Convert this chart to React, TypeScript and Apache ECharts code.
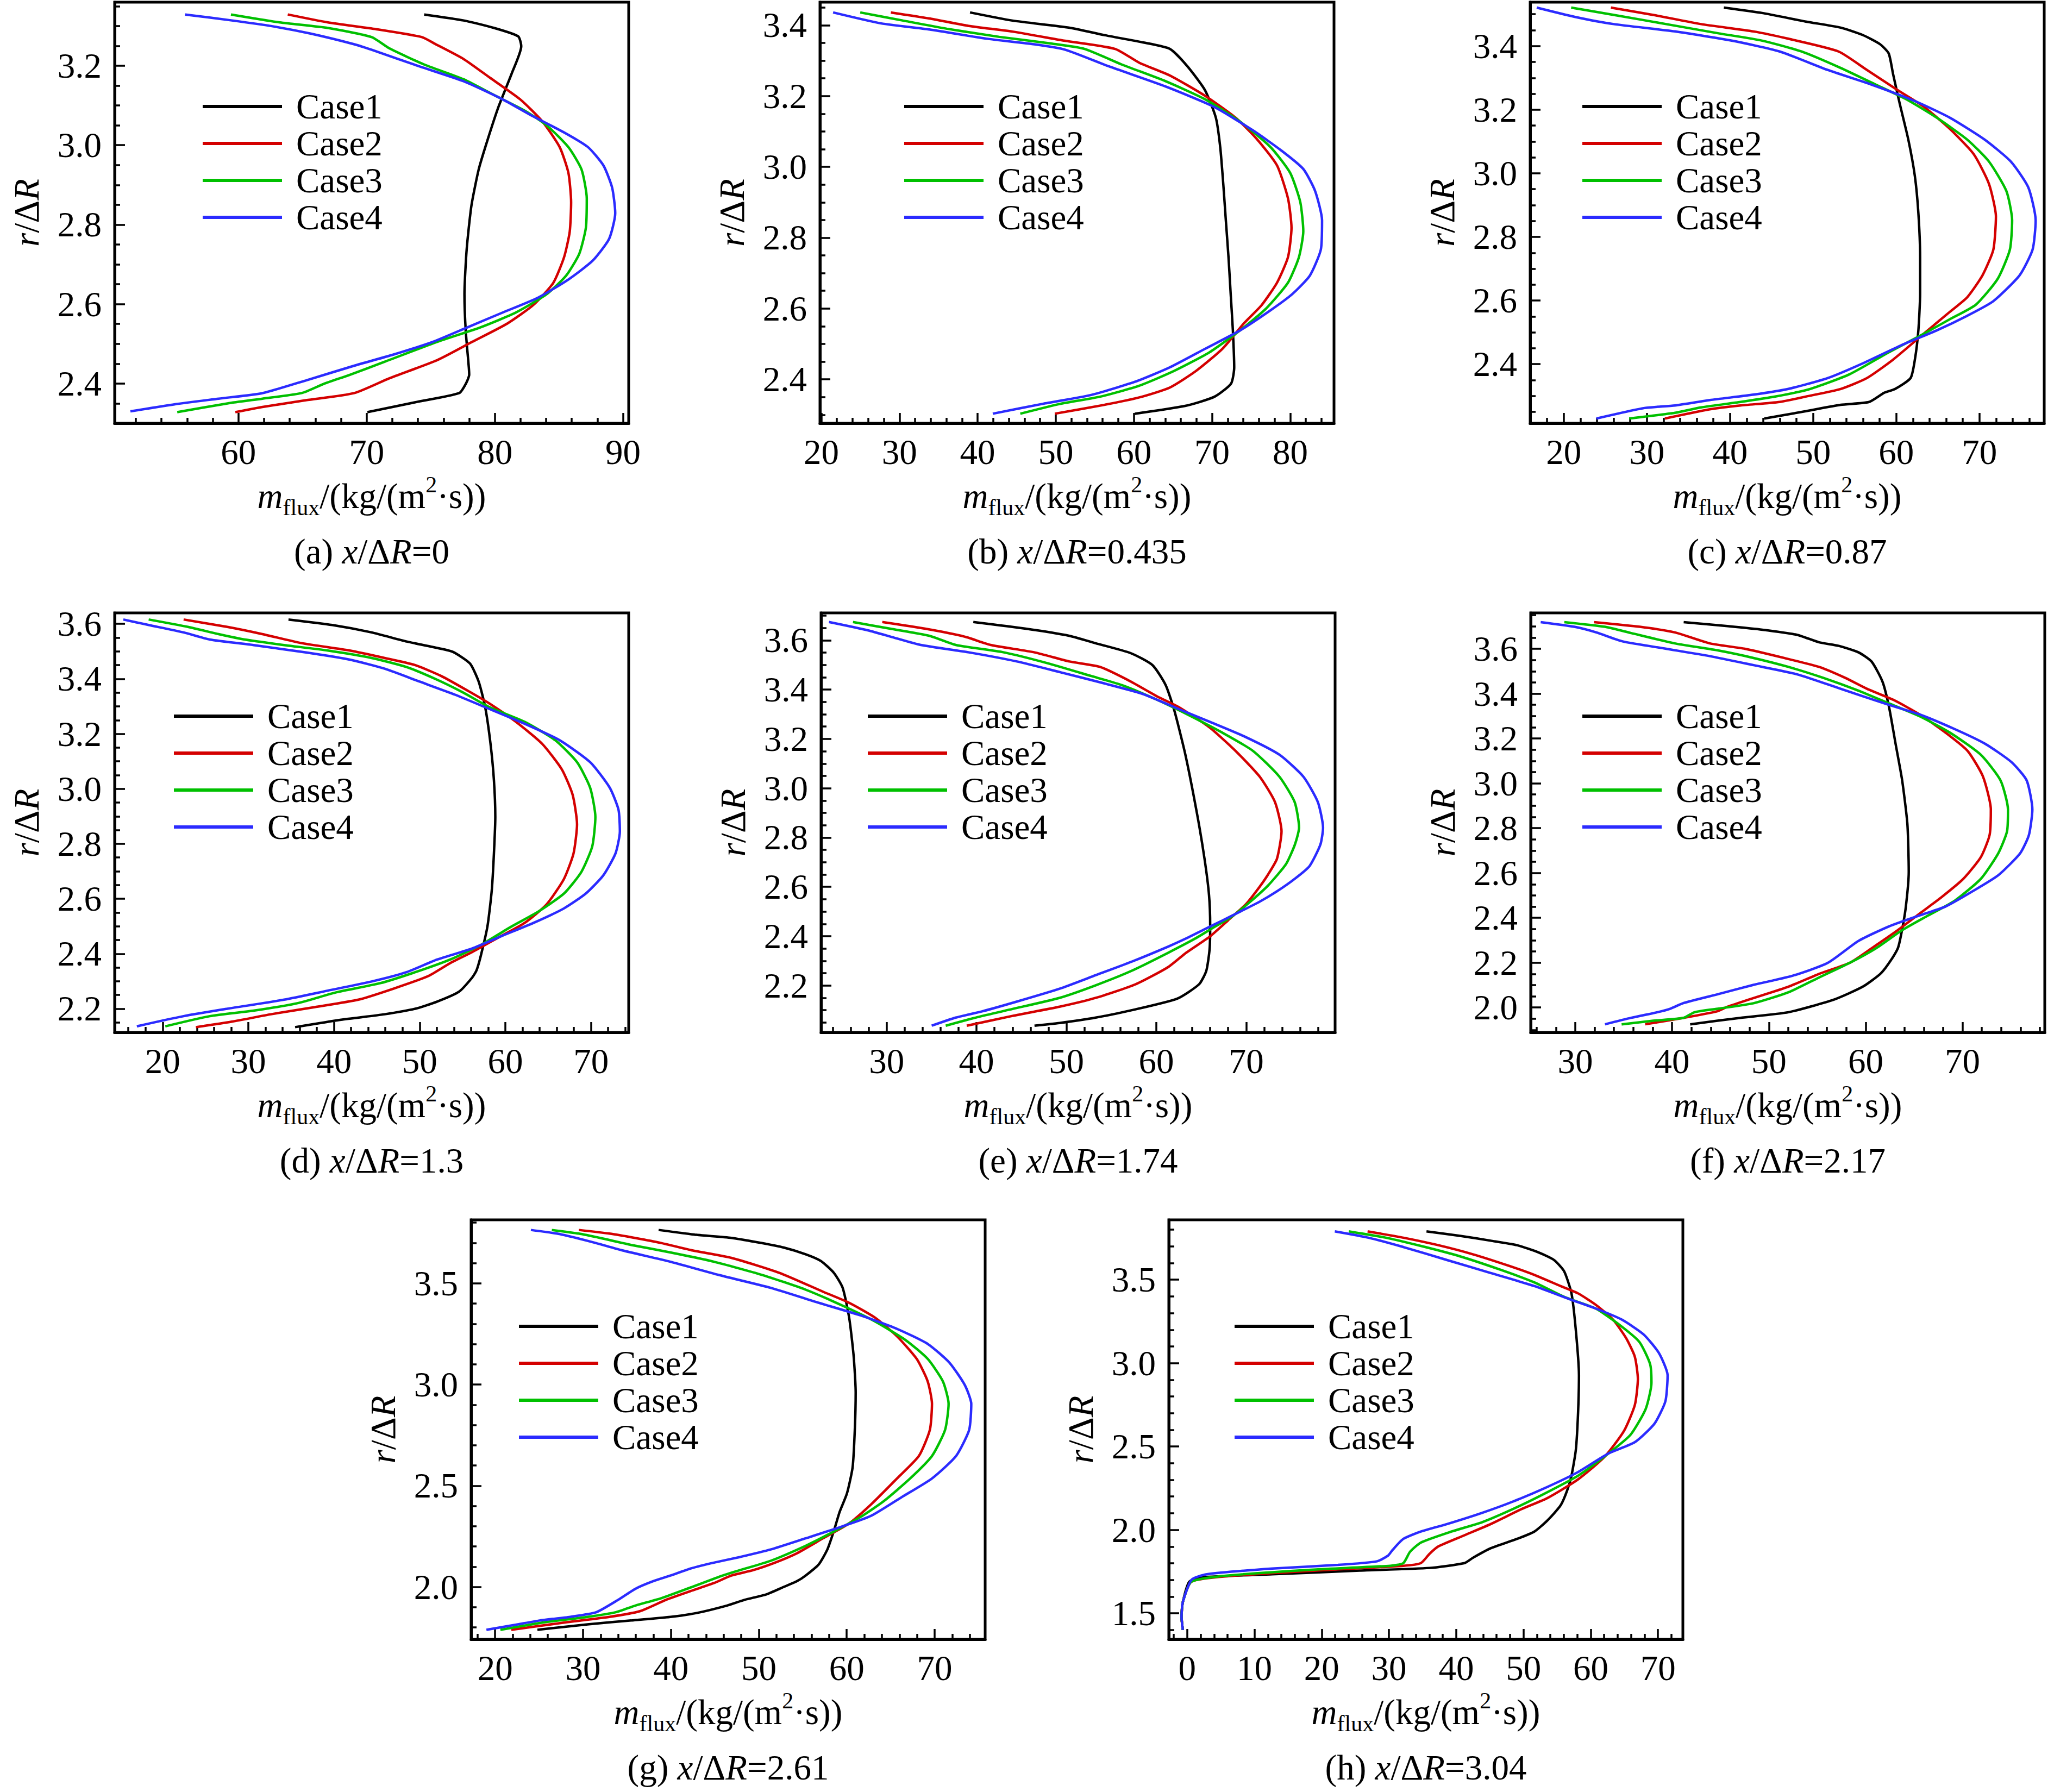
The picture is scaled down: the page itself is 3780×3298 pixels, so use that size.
import React, { useEffect, useRef } from 'react';
import * as echarts from 'echarts';

// ---------------- data ----------------
const caseNames = ['Case1', 'Case2', 'Case3', 'Case4'];
const panelLetters = ['a', 'b', 'c', 'd', 'e', 'f', 'g', 'h'];
const panelPositions = ['0', '0.435', '0.87', '1.3', '1.74', '2.17', '2.61', '3.04'];
const xMins = [50.35, 19.83, 15.96, 14.4, 22.7, 25.4, 17.27, -2.73];
const xMaxs = [90.44, 85.6, 77.8, 74.4, 79.9, 78.5, 75.75, 73.7];
const yMins = [2.3, 2.276, 2.214, 2.114, 2.01, 1.889, 1.741, 1.344];
const yMaxs = [3.36, 3.465, 3.538, 3.64, 3.711, 3.76, 3.814, 3.859];
const xMajorStep = [10, 10, 10, 10, 10, 10, 10, 10];
const xMinorSplit = [5, 5, 5, 5, 5, 5, 5, 5];
const yMajorStep = [0.2, 0.2, 0.2, 0.2, 0.2, 0.2, 0.5, 0.5];
const yMinorSplit = [4, 4, 4, 4, 4, 4, 5, 5];

// (a) x/ΔR = 0
const aCase1 = [[74.49,3.329],[77.56,3.314],[79.95,3.295],[81.82,3.274],[82.06,3.249],[81.31,3.18],[80.29,3.097],[79.43,3.013],[78.75,2.94],[78.17,2.847],[77.8,2.736],[77.63,2.625],[77.73,2.533],[77.97,2.441],[78.0,2.422],[77.73,2.399],[77.22,2.376],[73.81,2.353],[70.06,2.328]];
const aCase2 = [[63.85,3.329],[66.99,3.309],[70.74,3.292],[74.32,3.272],[75.34,3.255],[77.56,3.217],[79.61,3.17],[81.99,3.115],[83.7,3.06],[85.06,2.995],[85.74,2.93],[85.95,2.856],[85.84,2.782],[85.4,2.718],[84.55,2.653],[83.01,2.598],[80.97,2.551],[78.24,2.505],[75.51,2.459],[71.76,2.413],[69.04,2.376],[65.28,2.358],[61.88,2.341],[59.76,2.328]];
const aCase3 = [[59.42,3.329],[63.24,3.309],[66.99,3.295],[70.4,3.272],[71.76,3.244],[74.49,3.203],[77.56,3.166],[79.95,3.126],[82.33,3.087],[84.04,3.05],[85.74,2.995],[86.76,2.939],[87.17,2.866],[87.1,2.792],[86.59,2.727],[85.57,2.672],[84.04,2.625],[81.65,2.579],[78.92,2.542],[75.51,2.505],[71.42,2.455],[68.69,2.422],[66.65,2.399],[64.94,2.376],[61.88,2.362],[59.15,2.35],[55.23,2.328]];
const aCase4 = [[55.84,3.329],[59.49,3.314],[62.55,3.3],[65.62,3.281],[69.04,3.254],[70.4,3.24],[74.15,3.198],[77.56,3.161],[80.63,3.115],[82.68,3.078],[85.4,3.032],[87.27,2.995],[88.47,2.949],[89.15,2.893],[89.39,2.829],[88.91,2.764],[87.62,2.709],[85.74,2.662],[83.36,2.616],[80.63,2.579],[77.9,2.542],[75.17,2.505],[72.1,2.473],[69.04,2.445],[65.28,2.408],[61.88,2.376],[58.47,2.362],[55.06,2.348],[51.58,2.33]];

// (b) x/ΔR = 0.435
const bCase1 = [[39.03,3.436],[44.45,3.413],[51.73,3.393],[56.21,3.372],[61.24,3.351],[64.6,3.333],[66.84,3.284],[69.08,3.217],[70.48,3.139],[71.04,3.056],[71.43,2.952],[71.76,2.849],[72.1,2.745],[72.38,2.641],[72.66,2.538],[72.83,2.434],[72.43,2.388],[70.31,2.351],[66.56,2.325],[60.12,2.303]];
const bCase2 = [[28.9,3.436],[33.82,3.419],[38.86,3.398],[44.45,3.382],[51.17,3.356],[57.6,3.333],[60.68,3.294],[64.6,3.258],[69.08,3.201],[73.0,3.139],[75.79,3.077],[78.31,3.004],[79.71,2.911],[80.16,2.828],[79.71,2.745],[78.31,2.673],[76.35,2.61],[74.11,2.559],[71.31,2.486],[67.96,2.424],[64.6,2.377],[60.68,2.349],[56.21,2.328],[49.88,2.303]];
const bCase3 = [[24.98,3.436],[30.46,3.413],[36.06,3.39],[42.78,3.367],[49.49,3.348],[53.69,3.333],[58.44,3.289],[64.04,3.242],[69.08,3.191],[73.56,3.128],[77.47,3.056],[79.99,2.983],[81.28,2.901],[81.67,2.818],[81.11,2.745],[79.71,2.673],[76.91,2.6],[73.56,2.538],[69.64,2.476],[65.16,2.424],[60.68,2.382],[55.65,2.351],[50.61,2.331],[45.46,2.303]];
const bCase4 = [[21.51,3.436],[27.67,3.405],[33.82,3.388],[41.1,3.362],[47.25,3.346],[51.17,3.331],[56.77,3.284],[64.04,3.227],[70.2,3.17],[75.23,3.103],[78.87,3.046],[81.67,2.994],[83.18,2.932],[84.07,2.849],[83.91,2.766],[82.51,2.693],[80.27,2.641],[77.47,2.595],[73.56,2.538],[69.08,2.486],[64.6,2.434],[60.12,2.393],[54.53,2.356],[48.37,2.331],[41.94,2.303]];

// (c) x/ΔR = 0.87
const cCase1 = [[39.26,3.521],[43.87,3.504],[49.12,3.477],[53.32,3.458],[55.94,3.435],[58.04,3.406],[59.09,3.377],[59.61,3.313],[60.4,3.221],[61.45,3.106],[62.24,2.991],[62.66,2.875],[62.87,2.737],[62.87,2.621],[62.66,2.506],[62.24,2.414],[61.72,2.356],[59.87,2.322],[58.56,2.31],[56.73,2.281],[53.32,2.272],[49.12,2.252],[44.13,2.229]];
const cCase2 = [[25.67,3.521],[30.76,3.498],[36.53,3.469],[42.82,3.446],[47.02,3.423],[53.05,3.383],[56.46,3.325],[60.14,3.262],[63.28,3.21],[66.43,3.14],[69.32,3.06],[71.15,2.967],[71.99,2.864],[71.68,2.76],[70.37,2.679],[68.53,2.61],[66.43,2.564],[63.28,2.495],[59.61,2.414],[56.46,2.356],[53.32,2.322],[49.12,2.298],[45.97,2.281],[41.25,2.27],[37.58,2.258],[32.17,2.229]];
const cCase3 = [[20.89,3.521],[26.03,3.498],[32.33,3.469],[38.63,3.44],[43.87,3.417],[48.59,3.383],[53.32,3.331],[57.51,3.279],[61.19,3.233],[64.86,3.175],[68.53,3.106],[71.15,3.037],[73.25,2.944],[73.94,2.852],[73.67,2.76],[72.2,2.668],[69.58,2.587],[66.43,2.541],[63.28,2.495],[59.09,2.437],[54.37,2.368],[49.64,2.322],[45.45,2.298],[41.25,2.281],[36.53,2.264],[33.38,2.247],[27.87,2.229]];
const cCase4 = [[16.75,3.521],[21.31,3.492],[26.03,3.469],[33.38,3.446],[40.2,3.417],[45.97,3.383],[51.74,3.325],[56.99,3.279],[62.24,3.227],[66.43,3.175],[70.63,3.106],[73.78,3.037],[75.88,2.956],[76.77,2.852],[76.4,2.76],[74.83,2.679],[71.68,2.598],[68.53,2.552],[64.86,2.506],[60.66,2.46],[55.94,2.402],[51.74,2.356],[47.02,2.322],[42.82,2.304],[37.58,2.287],[33.38,2.27],[29.71,2.262],[23.93,2.229]];

// (d) x/ΔR = 1.3
const dCase1 = [[34.69,3.616],[39.8,3.596],[44.39,3.569],[48.47,3.536],[51.53,3.516],[53.83,3.499],[55.87,3.456],[56.89,3.39],[57.65,3.297],[58.27,3.164],[58.67,3.031],[58.83,2.898],[58.67,2.765],[58.42,2.632],[57.91,2.499],[57.14,2.393],[56.63,2.339],[56.12,2.313],[54.59,2.262],[52.04,2.226],[49.49,2.2],[45.92,2.18],[40.82,2.16],[35.46,2.133]];
const dCase2 = [[22.45,3.616],[27.55,3.589],[31.63,3.563],[36.22,3.53],[41.84,3.503],[45.92,3.476],[49.49,3.45],[52.55,3.41],[55.61,3.357],[58.16,3.31],[61.22,3.244],[64.29,3.164],[66.59,3.071],[67.86,2.978],[68.37,2.871],[67.96,2.765],[66.84,2.672],[64.8,2.579],[62.24,2.512],[59.18,2.459],[56.12,2.406],[53.57,2.366],[51.02,2.319],[46.94,2.273],[42.86,2.233],[37.76,2.206],[32.65,2.18],[28.06,2.153],[23.88,2.133]];
const dCase3 = [[18.37,3.616],[22.96,3.589],[26.53,3.563],[29.59,3.543],[34.18,3.523],[39.29,3.503],[44.39,3.476],[48.47,3.443],[52.04,3.397],[55.1,3.35],[58.16,3.297],[62.24,3.244],[65.82,3.177],[68.37,3.097],[69.9,3.004],[70.51,2.898],[70.15,2.791],[68.88,2.698],[66.84,2.619],[63.78,2.552],[60.71,2.499],[57.14,2.432],[53.57,2.379],[49.49,2.333],[45.41,2.293],[40.31,2.26],[35.71,2.22],[30.61,2.193],[25.51,2.173],[20.31,2.136]];
const dCase4 = [[15.41,3.616],[18.37,3.596],[22.45,3.569],[25.51,3.543],[30.61,3.523],[36.73,3.496],[41.84,3.47],[45.92,3.437],[50.0,3.39],[54.08,3.343],[57.65,3.297],[62.24,3.237],[66.33,3.177],[69.9,3.097],[72.19,3.004],[73.21,2.924],[73.37,2.845],[72.86,2.765],[71.43,2.685],[69.39,2.619],[66.84,2.565],[63.27,2.512],[59.69,2.466],[56.12,2.419],[52.04,2.379],[48.47,2.333],[44.39,2.299],[39.29,2.266],[34.18,2.233],[27.55,2.2],[22.45,2.173],[16.99,2.136]];

// (e) x/ΔR = 1.74
const eCase1 = [[39.64,3.674],[45.47,3.647],[50.34,3.618],[53.26,3.588],[57.15,3.548],[59.59,3.499],[61.05,3.418],[62.02,3.314],[63.24,3.136],[64.54,2.896],[65.37,2.714],[65.87,2.567],[66.0,2.442],[65.93,2.346],[65.57,2.26],[64.76,2.205],[62.34,2.147],[57.28,2.1],[53.27,2.07],[49.24,2.048],[46.45,2.037]];
const eCase2 = [[29.51,3.674],[34.28,3.647],[38.66,3.615],[41.58,3.581],[46.45,3.551],[50.34,3.514],[53.75,3.492],[57.15,3.433],[60.07,3.373],[62.51,3.329],[65.91,3.247],[68.83,3.151],[71.51,3.047],[73.21,2.944],[73.94,2.825],[73.43,2.714],[72.4,2.648],[71.41,2.596],[69.98,2.53],[67.98,2.464],[65.97,2.399],[63.33,2.333],[61.33,2.275],[57.7,2.205],[53.27,2.15],[49.24,2.114],[44.01,2.077],[38.91,2.037]];
const eCase3 = [[26.25,3.674],[30.39,3.647],[34.77,3.618],[37.69,3.581],[43.04,3.551],[47.91,3.507],[52.77,3.455],[56.18,3.418],[60.07,3.359],[63.48,3.299],[67.37,3.225],[70.78,3.151],[73.7,3.047],[75.4,2.944],[75.89,2.84],[75.42,2.771],[74.43,2.692],[72.4,2.604],[70.4,2.538],[68.39,2.479],[66.35,2.435],[64.36,2.391],[61.33,2.333],[57.28,2.26],[53.27,2.201],[49.24,2.15],[44.01,2.105],[40.12,2.072],[36.57,2.037]];
const eCase4 = [[23.58,3.674],[27.96,3.64],[30.88,3.61],[33.8,3.581],[39.15,3.551],[44.5,3.514],[49.37,3.47],[54.23,3.425],[58.61,3.381],[62.51,3.321],[65.91,3.27],[69.81,3.21],[73.7,3.136],[76.37,3.047],[77.98,2.944],[78.56,2.84],[78.26,2.771],[77.05,2.684],[75.42,2.633],[73.43,2.582],[71.41,2.538],[69.4,2.501],[67.38,2.464],[65.37,2.428],[63.33,2.391],[61.33,2.358],[57.28,2.297],[53.27,2.242],[49.24,2.187],[44.5,2.135],[40.61,2.095],[37.69,2.07],[35.01,2.037]];

// (f) x/ΔR = 2.17
const fCase1 = [[41.2,3.719],[45.71,3.701],[49.32,3.685],[52.93,3.662],[55.19,3.629],[57.22,3.613],[59.26,3.584],[60.61,3.543],[61.74,3.453],[62.42,3.339],[63.09,3.176],[63.77,3.013],[64.31,2.818],[64.45,2.606],[64.13,2.443],[63.68,2.329],[63.32,2.264],[62.42,2.199],[61.51,2.15],[59.71,2.093],[56.77,2.036],[52.03,1.979],[47.07,1.954],[41.87,1.925]];
const fCase2 = [[31.94,3.719],[36.68,3.698],[40.29,3.673],[43.91,3.624],[47.52,3.6],[51.58,3.559],[55.19,3.519],[57.9,3.47],[60.16,3.421],[62.87,3.372],[65.58,3.307],[68.28,3.225],[70.54,3.144],[72.12,3.03],[72.93,2.883],[72.8,2.769],[71.9,2.671],[70.09,2.574],[67.83,2.492],[65.58,2.419],[63.32,2.345],[60.61,2.264],[58.35,2.199],[55.19,2.15],[52.03,2.093],[47.97,2.036],[45.71,2.003],[44.58,1.982],[41.2,1.954],[37.22,1.925]];
const fCase3 = [[28.87,3.719],[33.07,3.698],[35.78,3.67],[40.29,3.624],[44.81,3.592],[48.42,3.559],[52.03,3.519],[55.64,3.47],[59.26,3.413],[62.42,3.356],[65.58,3.299],[68.74,3.225],[71.9,3.127],[73.93,3.013],[74.7,2.883],[74.6,2.785],[73.7,2.688],[71.9,2.574],[69.19,2.476],[66.48,2.411],[63.77,2.345],[61.06,2.264],[58.35,2.199],[55.19,2.134],[52.03,2.068],[48.42,2.019],[44.81,1.995],[42.33,1.979],[41.2,1.954],[38.04,1.941],[34.79,1.925]];
const fCase4 = [[26.43,3.719],[29.91,3.698],[32.17,3.673],[34.88,3.633],[39.39,3.6],[43.91,3.567],[48.42,3.527],[52.93,3.486],[57.45,3.421],[61.96,3.356],[65.58,3.307],[69.19,3.242],[72.35,3.176],[75.05,3.095],[76.63,3.013],[77.22,2.883],[76.86,2.769],[75.96,2.688],[73.7,2.59],[70.99,2.517],[68.28,2.451],[65.58,2.411],[62.42,2.362],[59.26,2.297],[56.09,2.199],[52.48,2.142],[48.42,2.101],[44.81,2.06],[41.2,2.02],[39.84,1.995],[38.49,1.979],[35.78,1.954],[33.07,1.925]];

// (g) x/ΔR = 2.61
const gCase1 = [[38.6,3.764],[42.92,3.74],[46.88,3.725],[50.36,3.699],[52.84,3.677],[55.32,3.644],[57.05,3.611],[58.54,3.552],[59.54,3.478],[60.28,3.33],[60.78,3.145],[61.02,2.961],[60.92,2.776],[60.67,2.591],[60.03,2.462],[59.19,2.37],[58.54,2.277],[57.8,2.185],[56.81,2.111],[55.32,2.056],[54.33,2.028],[52.84,2.0],[50.85,1.963],[48.37,1.936],[46.39,1.908],[42.92,1.871],[39.94,1.852],[35.48,1.834],[30.52,1.815],[24.81,1.788]];
const gCase2 = [[29.52,3.764],[33.0,3.746],[35.97,3.724],[38.95,3.699],[42.42,3.663],[46.88,3.626],[52.34,3.552],[57.3,3.459],[60.28,3.404],[63.25,3.33],[65.73,3.238],[67.96,3.127],[69.21,3.016],[69.7,2.905],[69.46,2.776],[68.21,2.647],[65.73,2.536],[62.76,2.407],[60.28,2.314],[57.3,2.24],[54.33,2.166],[51.85,2.12],[49.37,2.083],[46.88,2.056],[44.9,2.019],[42.42,1.982],[39.44,1.936],[36.47,1.88],[33.0,1.852],[28.04,1.825],[21.84,1.788]];
const gCase3 = [[26.45,3.764],[29.52,3.746],[32.0,3.724],[35.48,3.69],[39.94,3.653],[44.9,3.607],[50.36,3.542],[55.32,3.469],[59.78,3.385],[63.25,3.311],[66.72,3.219],[69.21,3.127],[70.94,3.016],[71.59,2.905],[71.19,2.776],[69.7,2.647],[67.22,2.536],[64.25,2.425],[61.77,2.351],[58.29,2.268],[55.32,2.203],[51.35,2.129],[47.88,2.083],[45.89,2.056],[42.42,2.0],[38.95,1.945],[35.97,1.908],[33.74,1.875],[30.52,1.852],[25.56,1.825],[20.6,1.788]];
const gCase4 = [[24.07,3.764],[27.04,3.746],[29.28,3.724],[31.51,3.699],[34.48,3.663],[39.94,3.607],[45.4,3.542],[51.35,3.478],[56.81,3.404],[61.77,3.339],[65.73,3.275],[69.21,3.201],[71.69,3.108],[73.43,2.998],[74.17,2.905],[73.93,2.776],[72.44,2.647],[69.7,2.536],[66.23,2.443],[62.76,2.351],[59.29,2.296],[55.32,2.24],[51.35,2.185],[47.88,2.148],[44.9,2.12],[42.42,2.093],[39.94,2.056],[37.96,2.028],[35.97,1.991],[33.99,1.936],[31.51,1.875],[28.53,1.852],[25.06,1.834],[22.58,1.815],[19.01,1.788]];

// (h) x/ΔR = 3.04
const hCase1 = [[35.58,3.79],[40.58,3.763],[45.13,3.734],[49.03,3.707],[52.27,3.663],[54.55,3.618],[56.04,3.551],[57.14,3.418],[57.79,3.195],[58.25,2.927],[58.12,2.704],[57.79,2.481],[57.14,2.325],[56.49,2.236],[55.52,2.147],[53.57,2.057],[51.62,1.99],[49.03,1.946],[45.13,1.89],[42.53,1.834],[41.23,1.801],[36.04,1.772],[25.65,1.756],[12.66,1.734],[2.27,1.716],[0.32,1.69],[-0.65,1.567],[-0.84,1.478],[-0.65,1.4]];
const hCase2 = [[26.82,3.79],[32.14,3.752],[37.34,3.707],[42.53,3.652],[47.73,3.585],[51.62,3.529],[55.52,3.462],[58.12,3.418],[60.71,3.351],[63.31,3.261],[65.26,3.15],[66.56,3.038],[67.01,2.905],[66.56,2.749],[64.94,2.593],[62.01,2.436],[58.12,2.303],[53.57,2.191],[49.68,2.124],[45.13,2.035],[41.23,1.968],[37.34,1.901],[36.04,1.857],[34.74,1.801],[32.14,1.785],[19.16,1.756],[6.17,1.723],[0.65,1.69],[-0.65,1.567],[-0.84,1.478],[-0.65,1.4]];
const hCase3 = [[24.03,3.79],[29.55,3.752],[35.39,3.696],[40.58,3.64],[46.43,3.562],[51.62,3.484],[56.17,3.395],[60.71,3.328],[63.96,3.239],[67.21,3.128],[68.83,2.994],[69.03,2.882],[68.18,2.726],[65.91,2.57],[62.66,2.459],[58.12,2.325],[52.92,2.213],[48.38,2.124],[43.83,2.046],[39.29,1.99],[34.74,1.924],[33.12,1.868],[32.14,1.801],[30.19,1.785],[19.16,1.763],[6.17,1.727],[0.65,1.69],[-0.65,1.567],[-0.84,1.478],[-0.65,1.4]];
const hCase4 = [[21.95,3.79],[26.95,3.752],[32.14,3.696],[38.64,3.618],[45.13,3.54],[51.62,3.462],[56.82,3.384],[60.71,3.328],[64.61,3.261],[67.86,3.172],[70.13,3.061],[71.43,2.927],[71.1,2.771],[69.48,2.637],[66.56,2.526],[62.66,2.459],[58.12,2.347],[53.57,2.258],[48.38,2.169],[43.83,2.102],[38.64,2.035],[34.74,1.99],[32.14,1.946],[30.52,1.879],[29.87,1.846],[28.25,1.812],[22.4,1.79],[12.66,1.768],[2.92,1.734],[0.65,1.701],[-0.65,1.567],[-0.84,1.478],[-0.65,1.4]];

const panelData = [
  [aCase1, aCase2, aCase3, aCase4],
  [bCase1, bCase2, bCase3, bCase4],
  [cCase1, cCase2, cCase3, cCase4],
  [dCase1, dCase2, dCase3, dCase4],
  [eCase1, eCase2, eCase3, eCase4],
  [fCase1, fCase2, fCase3, fCase4],
  [gCase1, gCase2, gCase3, gCase4],
  [hCase1, hCase2, hCase3, hCase4],
];

// ---------------- layout & style ----------------
const W = 3780;
const H = 3298;
const FONT = '"Liberation Serif", "Times New Roman", Times, serif';
const FS = 65;
const caseColors = ['#000000', '#d40000', '#00c000', '#2b2bff'];
const gridLefts = [211, 1509, 2816, 211, 1511, 2817, 867, 2151];
const gridTops = [4, 4, 4, 1128, 1128, 1128, 2245, 2245];
const gridW = 946;
const gridH = [775, 775, 775, 772, 772, 772, 772, 772];
const legendLefts = [373, 1664, 2912, 320, 1597, 2912, 955, 2272];
const legendRowY = [196, 196, 196, 1318, 1318, 1318, 2441, 2441];
const legendRow = 68;
const captionGap = 236;

const mkRich = (lh: number) => ({
  n: { fontFamily: FONT, fontSize: FS, fontWeight: 'normal', color: '#000', lineHeight: lh },
  i: { fontFamily: FONT, fontSize: FS, fontWeight: 'normal', fontStyle: 'italic', color: '#000', lineHeight: lh },
  s: { fontFamily: FONT, fontSize: 42, fontWeight: 'normal', color: '#000', verticalAlign: 'bottom', lineHeight: 42 },
  p: { fontFamily: FONT, fontSize: 42, fontWeight: 'normal', color: '#000', verticalAlign: 'top', lineHeight: 42 },
});
const axisRich = mkRich(84);
const captionRich = mkRich(62);

const isMultiple = (v: number, step: number) => Math.abs(v / step - Math.round(v / step)) < 1e-6;

function buildOption() {
  const grid: any[] = [];
  const xAxis: any[] = [];
  const yAxis: any[] = [];
  const series: any[] = [];
  const legend: any[] = [];
  const title: any[] = [];

  panelData.forEach((cases, p) => {
    grid.push({
      left: gridLefts[p], top: gridTops[p], width: gridW, height: gridH[p],
      show: true, borderColor: '#000', borderWidth: 5, backgroundColor: 'transparent',
      containLabel: false,
    });
    const xs = xMajorStep[p];
    const ys = yMajorStep[p];
    xAxis.push({
      type: 'value', gridIndex: p, min: xMins[p], max: xMaxs[p],
      minInterval: xs, maxInterval: xs,
      position: 'bottom',
      axisLine: { show: true, onZero: false, lineStyle: { color: '#000', width: 5 } },
      axisTick: { show: true, inside: true, length: 19, lineStyle: { color: '#000', width: 3.5 } },
      minorTick: { show: true, splitNumber: xMinorSplit[p], length: 10, lineStyle: { color: '#000', width: 3.5 } },
      splitLine: { show: false },
      axisLabel: {
        fontFamily: FONT, fontSize: FS, fontWeight: 'normal', color: '#000', margin: 20,
        formatter: (v: number) => (isMultiple(v, xs) ? String(Math.round(v)) : ''),
      },
      name: '{i|m}{s|flux}{n|/(kg/(m}{p|2}{n|·s))}',
      nameLocation: 'middle', nameGap: 92,
      nameTextStyle: { fontFamily: FONT, fontSize: FS, color: '#000', rich: axisRich },
    });
    yAxis.push({
      type: 'value', gridIndex: p, min: yMins[p], max: yMaxs[p],
      minInterval: ys, maxInterval: ys,
      position: 'left',
      axisLine: { show: true, onZero: false, lineStyle: { color: '#000', width: 5 } },
      axisTick: { show: true, inside: true, length: 19, lineStyle: { color: '#000', width: 3.5 } },
      minorTick: { show: true, splitNumber: yMinorSplit[p], length: 10, lineStyle: { color: '#000', width: 3.5 } },
      splitLine: { show: false },
      axisLabel: {
        fontFamily: FONT, fontSize: FS, fontWeight: 'normal', color: '#000', margin: 24,
        formatter: (v: number) => (isMultiple(v, ys) ? v.toFixed(1) : ''),
      },
      name: '{i|r}{n|/Δ}{i|R}',
      nameLocation: 'middle', nameGap: 120,
      nameTextStyle: { fontFamily: FONT, fontSize: FS, color: '#000', rich: axisRich },
    });
    cases.forEach((d, c) => {
      series.push({
        type: 'line', name: caseNames[c], xAxisIndex: p, yAxisIndex: p,
        data: d, symbol: 'none', showSymbol: false, smooth: 0.2,
        color: caseColors[c],
        lineStyle: { color: caseColors[c], width: 4.5 },
        itemStyle: { color: caseColors[c] },
        emphasis: { disabled: true },
      });
    });
    legend.push({
      left: legendLefts[p], top: legendRowY[p] - legendRow / 2,
      orient: 'vertical', padding: 0, itemGap: 0,
      data: caseNames.map((n) => ({ name: n, icon: 'rect' })),
      itemWidth: 146, itemHeight: 6, selectedMode: false,
      textStyle: { fontFamily: FONT, fontSize: FS, fontWeight: 'normal', color: '#000', lineHeight: legendRow, padding: [0, 0, 0, 21] },
    });
    title.push({
      text: `{n|(${panelLetters[p]}) }{i|x}{n|/Δ}{i|R}{n|=${panelPositions[p]}}`,
      left: gridLefts[p] + gridW / 2, top: gridTops[p] + gridH[p] + captionGap,
      textAlign: 'center', textVerticalAlign: 'middle', padding: 0,
      textStyle: { fontFamily: FONT, fontSize: FS, fontWeight: 'normal', color: '#000', rich: captionRich },
    });
  });

  return {
    animation: false,
    backgroundColor: '#ffffff',
    textStyle: { fontFamily: FONT },
    grid, xAxis, yAxis, series, legend, title,
  };
}

export default function App() {
  const ref = useRef<HTMLDivElement>(null);
  useEffect(() => {
    document.body.style.margin = '0';
    if (!ref.current) return;
    const chart = echarts.init(ref.current, undefined, { renderer: 'svg', width: W, height: H });
    chart.setOption(buildOption() as any);
    return () => chart.dispose();
  }, []);
  return <div ref={ref} style={{ width: W, height: H, position: 'absolute', left: 0, top: 0, background: '#fff' }} />;
}
